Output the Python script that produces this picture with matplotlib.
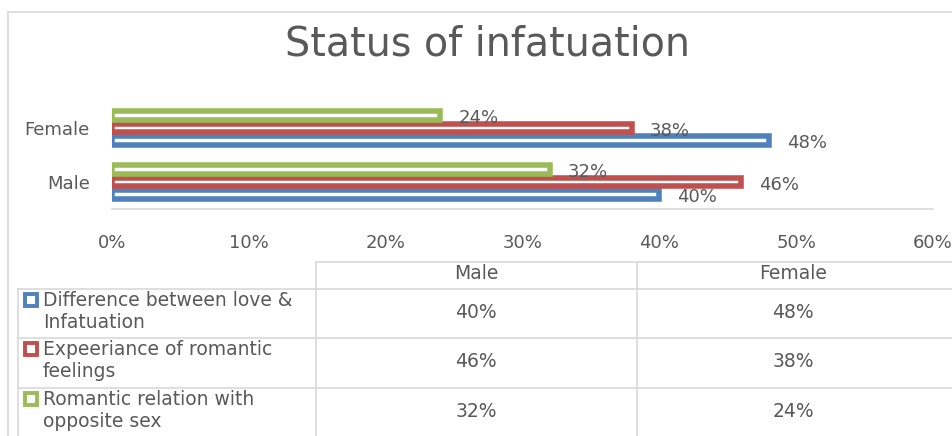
import numpy as np
import matplotlib.pyplot as plt
from matplotlib.lines import Line2D

# data
groups = ['Male', 'Female']
series = ['Difference between love &\nInfatuation',
          'Expeeriance of romantic\nfeelings',
          'Romantic relation with\nopposite sex']
values = [
    [40, 48],
    [46, 38],
    [32, 24],
]
colors = ['#4F81BD', '#C0504D', '#9BBB59']
xticks = [0, 10, 20, 30, 40, 50, 60]
title = 'Status of infatuation'

TXT = '#595959'
GRID = '#D9D9D9'
W, H = 953, 436
FS = 13


def main():
    plt.rcParams['font.family'] = ['DejaVu Sans']
    fig = plt.figure(figsize=(W / 100, H / 100), dpi=100)

    # outer chart frame (left and top edges visible)
    fig.add_artist(Line2D([8.5 / W, 8.5 / W], [0, 1 - 12.5 / H],
                          color=GRID, lw=1.2))
    fig.add_artist(Line2D([8.5 / W, 1], [1 - 12.5 / H, 1 - 12.5 / H],
                          color=GRID, lw=1.2))

    fig.text(488 / W, 1 - 44 / H, title, ha='center', va='center',
             fontsize=28.5, color=TXT)

    # bar chart
    ax = fig.add_axes([112 / W, (H - 209) / H, (933 - 112) / W, 108 / H])
    y = np.arange(len(groups))
    step = 0.235
    for i, (vals, c) in enumerate(zip(values, colors)):
        pos = y + (i - 1) * step
        ax.barh(pos, vals, height=0.16, color='white', edgecolor=c,
                linewidth=4)
        for p, v in zip(pos, vals):
            ax.text(v + 1.3, p - 0.05, '{}%'.format(v), va='center',
                    ha='left', fontsize=FS, color=TXT)
    ax.set_xlim(0, 60)
    ax.set_ylim(-0.5, 1.5)
    ax.set_xticks(xticks)
    ax.set_xticklabels(['{}%'.format(t) for t in xticks])
    ax.set_yticks(y)
    ax.set_yticklabels(groups)
    ax.tick_params(length=0, labelsize=FS, labelcolor=TXT)
    ax.tick_params(axis='x', pad=18)
    ax.tick_params(axis='y', pad=16)
    for s in ['top', 'right', 'left']:
        ax.spines[s].set_visible(False)
    ax.spines['bottom'].set_color(GRID)
    ax.spines['bottom'].set_linewidth(1.2)

    # data table below (pixel coordinates)
    tb = fig.add_axes([0, 0, 1, 1])
    tb.set_xlim(0, W)
    tb.set_ylim(H, 0)
    tb.axis('off')
    lw = 1.2
    tb.plot([316, W], [262, 262], color=GRID, lw=lw)
    for yy in [289, 338, 388]:
        tb.plot([18, W], [yy, yy], color=GRID, lw=lw)
    tb.plot([316, 316], [262, H], color=GRID, lw=lw)
    tb.plot([637, 637], [262, H], color=GRID, lw=lw)
    tb.plot([18, 18], [289, H], color=GRID, lw=lw)

    col_x = [476, 793]
    for g, cx in zip(groups, col_x):
        tb.text(cx, 273, g, ha='center', va='center', fontsize=13.5,
                color=TXT)
    row_top = [289, 338, 388]
    for r, (name, vals, c) in enumerate(zip(series, values, colors)):
        top = row_top[r]
        tb.text(43, top + 22.5, name, ha='left', va='center', fontsize=13.5,
                color=TXT, linespacing=1.22)
        tb.plot([31], [top + 11], marker='s', ms=9, mfc='white', mec=c,
                mew=2.8)
        for v, cx in zip(vals, col_x):
            tb.text(cx, top + 23, '{}%'.format(v), ha='center', va='center',
                    fontsize=13.5, color=TXT)

    fig.savefig('out.png', dpi=100)
    return 0


if __name__ == "__main__":
    main()
